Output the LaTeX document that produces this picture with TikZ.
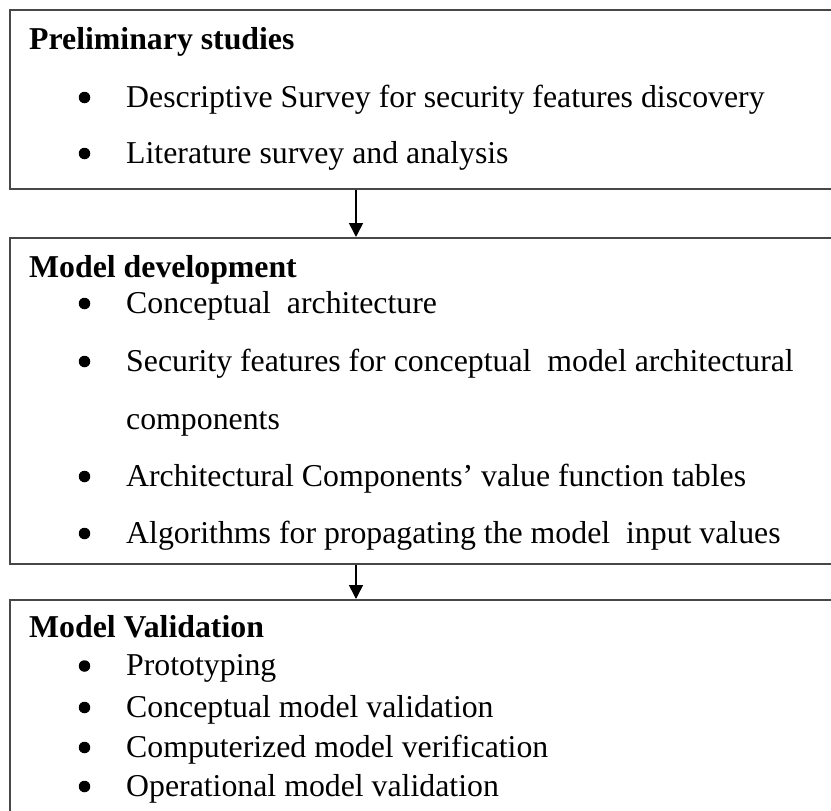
\documentclass[tikz,border=0pt]{standalone}
\usepackage{fontspec}
\setmainfont{Liberation Serif}
\usetikzlibrary{arrows.meta}
\newcommand{\txtsz}{\fontsize{31.8}{38}\selectfont}
\tikzset{
  boxframe/.style={draw=black!72, line width=2pt, rectangle, inner sep=0pt, anchor=north west},
  head/.style={anchor=base west, inner sep=0pt, font=\txtsz\bfseries},
  item/.style={anchor=base west, inner sep=0pt, font=\txtsz},
  bul/.style={circle, fill=black, inner sep=0pt, minimum size=11.5pt},
  flow/.style={line width=1.6pt, -{Triangle[width=14pt,length=14pt]}}
}
\begin{document}
\begin{tikzpicture}[x=1pt, y=-1pt]
\clip (0,0) rectangle (831,811);
\fill[white] (0,0) rectangle (831,811);
% boxes
\node[boxframe, minimum width=840pt, minimum height=179pt] (b1) at (9,9) {};
\node[boxframe, minimum width=840pt, minimum height=326pt] (b2) at (9,237) {};
\node[boxframe, minimum width=840pt, minimum height=240pt] (b3) at (9,599) {};
% box 1
\node[head] (h1) at (29,49) {Preliminary studies};
\node[bul] (p1) at (84.5,97.5) {};
\node[item] (t11) at (126,107) {Descriptive Survey for security features discovery};
\node[bul] (p2) at (84.5,153.5) {};
\node[item] (t12) at (126,163) {Literature survey and analysis};
% box 2
\node[head] (h2) at (29,277) {Model development};
\node[bul] (q1) at (84.5,303.5) {};
\node[item] (t21) at (126,313) {Conceptual~ architecture};
\node[bul] (q2) at (84.5,361.5) {};
\node[item] (t22) at (126,371) {Security features for conceptual~ model architectural};
\node[item] (t23) at (126,429) {components};
\node[bul] (q3) at (84.5,476.5) {};
\node[item] (t24) at (126,486) {Architectural Components’ value function tables};
\node[bul] (q4) at (84.5,533.5) {};
\node[item] (t25) at (126,543) {Algorithms for propagating the model~ input values};
% box 3
\node[head] (h3) at (29,637) {Model Validation};
\node[bul] (r1) at (84.5,666) {};
\node[item] (t31) at (126,675.5) {Prototyping};
\node[bul] (r2) at (84.5,707.5) {};
\node[item] (t32) at (126,717) {Conceptual model validation};
\node[bul] (r3) at (84.5,747.5) {};
\node[item] (t33) at (126,757) {Computerized model verification};
\node[bul] (r4) at (84.5,786.5) {};
\node[item] (t34) at (126,796) {Operational model validation};
% arrows
\coordinate (ax) at (356,0);
\draw[flow] (b1.south -| ax) -- (b2.north -| ax);
\draw[flow] (b2.south -| ax) -- (b3.north -| ax);
\end{tikzpicture}
\end{document}
